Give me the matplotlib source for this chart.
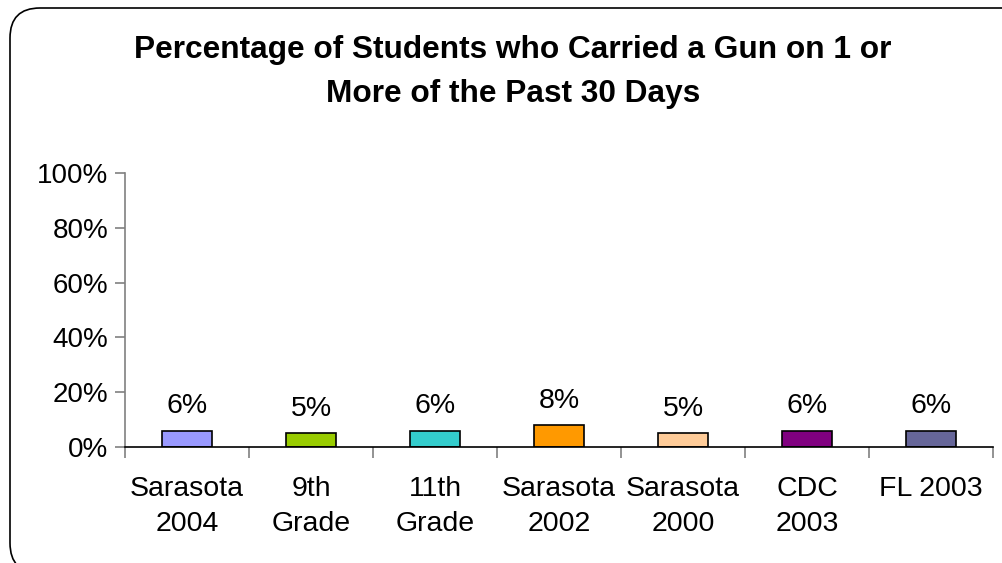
import matplotlib.pyplot as plt
from matplotlib.patches import FancyBboxPatch
from matplotlib.transforms import IdentityTransform
import numpy as np

plt.rcParams['font.family'] = ['Liberation Sans', 'DejaVu Sans']

categories = ['Sarasota\n2004', '9th\nGrade', '11th\nGrade', 'Sarasota\n2002',
              'Sarasota\n2000', 'CDC\n2003', 'FL 2003']
values = [6, 5, 6, 8, 5, 6, 6]
colors = ['#9999FF', '#99CC00', '#33CCCC', '#FF9900', '#FFCC99', '#800080', '#666699']
title = 'Percentage of Students who Carried a Gun on 1 or\nMore of the Past 30 Days'

fig = plt.figure(figsize=(10.02, 5.63), dpi=100)

# rounded frame (runs off the bottom/right edge like the original slide)
fig.add_artist(FancyBboxPatch((10, -10), 1022, 565,
                              boxstyle='round,pad=0,rounding_size=30',
                              transform=IdentityTransform(), fill=False,
                              edgecolor='black', linewidth=1.2))

ax = fig.add_axes([125 / 1002, 1 - 447 / 563, 868 / 1002, 274 / 563])

x = np.arange(len(categories))
ax.bar(x, values, width=0.4, color=colors, edgecolor='black', linewidth=1.2)
for xi, v in zip(x, values):
    ax.annotate(f'{v}%', (xi, v), xytext=(0, 8), textcoords='offset points',
                ha='center', va='bottom', fontsize=20.5)

ax.set_xlim(-0.5, len(categories) - 0.5)
ax.set_ylim(0, 100)
ax.set_yticks(range(0, 101, 20))
ax.set_yticklabels([f'{t}%' for t in range(0, 101, 20)], fontsize=20)
ax.set_xticks(x)
ax.set_xticklabels(categories, fontsize=20.5, linespacing=1.42)
ax.tick_params(axis='x', length=0, pad=21)
ax.set_xticks(np.arange(-0.5, len(categories)), minor=True)
ax.tick_params(axis='x', which='minor', length=8, color='#808080', width=1.2)
ax.tick_params(axis='y', length=7, color='#808080', width=1.2, pad=5)

for s in ['top', 'right']:
    ax.spines[s].set_visible(False)
ax.spines['left'].set_color('#808080')
ax.spines['left'].set_linewidth(1.2)
ax.spines['bottom'].set_color('black')
ax.spines['bottom'].set_linewidth(1.2)

fig.text(513 / 1002, 1 - 72 / 563, title, ha='center', va='center',
         fontsize=22.8, fontweight='bold', linespacing=1.58)

fig.savefig('out.png', dpi=100)
